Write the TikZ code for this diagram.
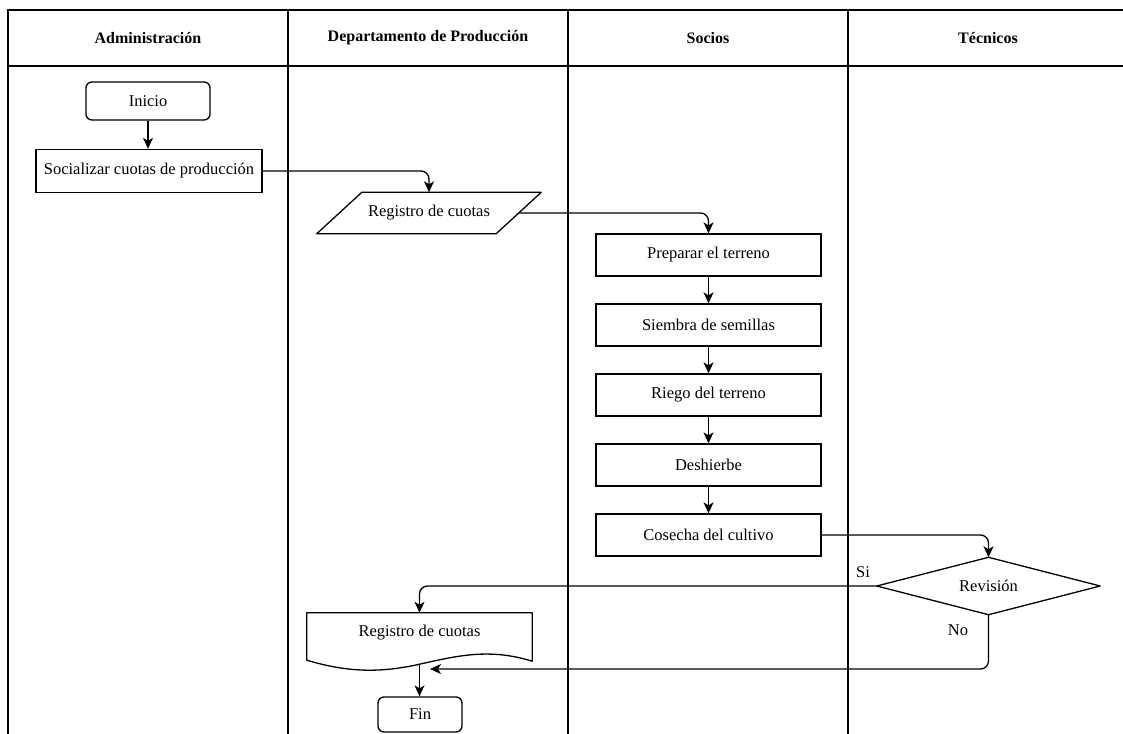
\documentclass[tikz,border=0pt]{standalone}
\usepackage{fontspec}
\setmainfont{Liberation Serif}
\newfontfamily\lanefont{Liberation Serif}
\usetikzlibrary{arrows.meta,calc}
\begin{document}
\begin{tikzpicture}[x=1pt,y=-1pt,
  font=\lanefont\fontsize{16.5}{19}\selectfont,
  lane/.style={line width=1.5pt},
  box/.style={draw, line width=1.3pt, minimum width=225pt, minimum height=42pt, inner sep=0pt},
  term/.style={draw, line width=1.3pt, rounded corners=6pt, inner sep=0pt},
  shell/.style={inner sep=0pt},
  outline/.style={line width=1.3pt, line join=round},
  flow/.style={line width=1.3pt, rounded corners=8pt, -{Stealth[length=11pt,width=10pt,inset=3pt]}},
  head/.style={font=\lanefont\fontsize{16}{19}\selectfont\bfseries},
  lbl/.style={inner sep=0pt}
]
\useasboundingbox (0,0) rectangle (1123,733);

% swimlane grid
\begin{scope}
  \clip (0,0) rectangle (1123,733);
  \draw[lane] (8,760) -- (8,10) -- (1140,10);
  \draw[lane] (8,66) -- (1140,66);
  \foreach \x in {288,568,848} \draw[lane] (\x,10) -- (\x,760);
\end{scope}

% lane headers
\node[head] (hA) at (148,38) {Administración};
\node[head] (hD) at (428,38) {Departamento de Producción};
\node[head] (hS) at (708,38) {Socios};
\node[head] (hT) at (988,38) {Técnicos};

% Administración
\node[term, minimum width=124pt, minimum height=38pt] (ini) at (148,101) {Inicio};
\node[box, minimum width=226pt, minimum height=43pt] (soc) at (149,171) {Socializar cuotas de producción};

% Departamento de Producción: input parallelogram
\node[shell, minimum width=224pt, minimum height=41pt] (reg) at (429,213) {Registro de cuotas};
\draw[outline] ([xshift=45pt]reg.north west) -- (reg.north east)
  -- ([xshift=-45pt]reg.south east) -- (reg.south west) -- cycle;
\coordinate (regR) at ($(reg.east)+(-22.5,0)$);

% Socios
\node[box] (prep) at (708.5,255) {Preparar el terreno};
\node[box] (sie) at (708.5,325) {Siembra de semillas};
\node[box] (rie) at (708.5,395) {Riego del terreno};
\node[box] (des) at (708.5,465) {Deshierbe};
\node[box] (cos) at (708.5,535) {Cosecha del cultivo};

% Técnicos: decision
\node[shell, minimum width=223pt, minimum height=57pt] (rev) at (988.5,586) {Revisión};
\draw[outline] (rev.north) -- (rev.east) -- (rev.south) -- (rev.west) -- cycle;

% document shape with wavy bottom
\node[shell, minimum width=225pt, minimum height=40pt] (doc) at (419.5,633) {Registro de cuotas};
\draw[outline] (doc.north west) -- (doc.north east) -- ($(doc.south east)+(0,8)$)
  .. controls +(-42,-13) and +(40,-9) .. ($(doc.south)+(0,11)$) coordinate (docb)
  .. controls +(-40,9) and +(40,12) .. ($(doc.south west)+(0,7)$) -- cycle;

\node[term, minimum width=84pt, minimum height=35pt] (fin) at (420,714.5) {Fin};

% branch labels
\node[lbl] (si) at (863,572) {Si};
\node[lbl] (no) at (958,630) {No};

% connectors
\coordinate (noend) at (430,669);
\draw[flow] (ini.south) -- (ini.south |- soc.north);
\draw[flow] (soc.east) -| (reg.north);
\draw[flow] (regR) -| (prep.north);
\draw[flow] (prep) -- (sie);
\draw[flow] (sie) -- (rie);
\draw[flow] (rie) -- (des);
\draw[flow] (des) -- (cos);
\draw[flow] (cos.east) -| (rev.north);
\draw[flow] (rev.west) -| (doc.north);
\draw[flow] (rev.south) |- (noend);
\draw[flow] (docb) -- (docb |- fin.north);
\end{tikzpicture}
\end{document}
